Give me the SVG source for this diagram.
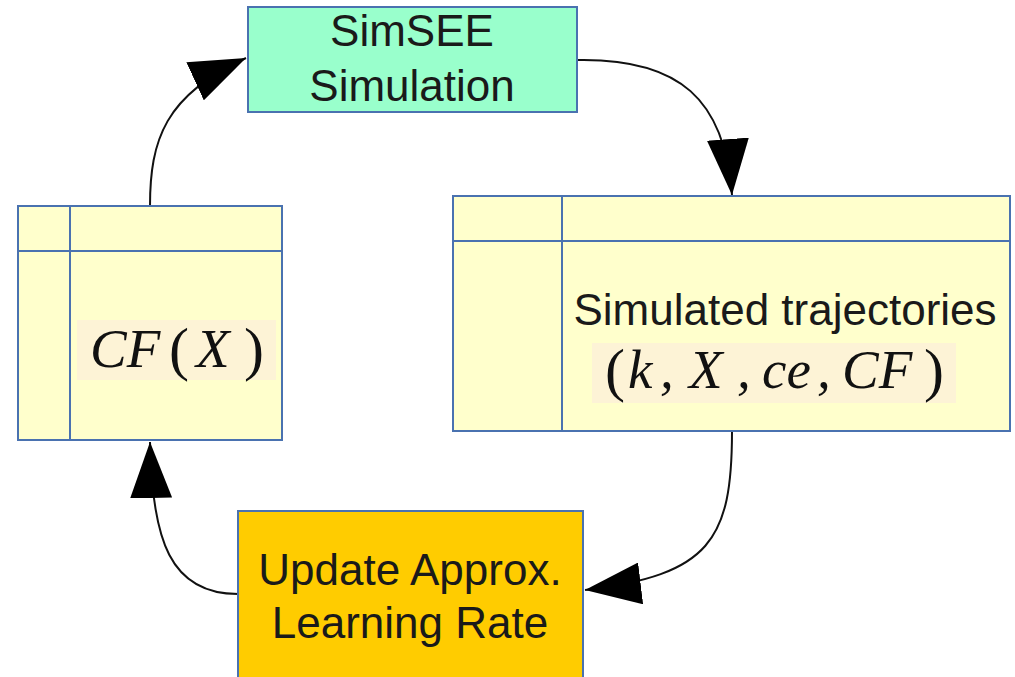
<svg xmlns="http://www.w3.org/2000/svg" width="1015" height="677" viewBox="0 0 1015 677">
<defs>
<style>
.box{stroke:#4a72b0;stroke-width:2}
.lbl{font-family:"Liberation Sans",Arial,sans-serif;font-size:44px;fill:#1a1a1a;text-anchor:middle}
.m{font-family:"Liberation Serif","Times New Roman",serif;font-size:55px;font-style:italic;fill:#111}
.p{font-family:"Liberation Serif","Times New Roman",serif;font-size:60px;fill:#111}
.div{stroke:#4a72b0;stroke-width:2}
.hl{fill:#fdf3d6}
.con{fill:none;stroke:#111;stroke-width:2}
</style>
<marker id="ah" markerUnits="userSpaceOnUse" viewBox="0 0 56 42" refX="56" refY="21" markerWidth="56" markerHeight="42" orient="auto">
<path d="M0,0 L56,21 L0,42 z" fill="#000"/>
</marker>
</defs>
<rect width="1015" height="677" fill="#fff"/>
<g id="connectors">
<path class="con" d="M150,206 C150,140 165,95 246,58" marker-end="url(#ah)"/>
<path class="con" d="M577,60 C680,58 725,100 732,195" marker-end="url(#ah)"/>
<path class="con" d="M732,431 C732,540 710,575 585,590" marker-end="url(#ah)"/>
<path class="con" d="M238,594 C170,594 152,540 150,442" marker-end="url(#ah)"/>
</g>
<g id="simsee">
<rect class="box" x="248" y="7" width="329" height="105" fill="#99ffcc"/>
<text class="lbl" x="412" y="46">SimSEE</text>
<text class="lbl" x="412" y="101">Simulation</text>
</g>
<g id="cf">
<rect class="box" x="18" y="206" width="264" height="234" fill="#ffffcc"/>
<line class="div" x1="70" y1="206" x2="70" y2="440"/>
<line class="div" x1="18" y1="251" x2="282" y2="251"/>
<rect class="hl" x="77" y="320" width="199" height="60"/>
<text class="m" x="90" y="367">CF</text>
<text class="p" x="169" y="369">(</text>
<text class="m" x="196" y="367">X</text>
<text class="p" x="244" y="369">)</text>
</g>
<g id="trajectories">
<rect class="box" x="453" y="196" width="557" height="235" fill="#ffffcc"/>
<line class="div" x1="562" y1="196" x2="562" y2="431"/>
<line class="div" x1="453" y1="241" x2="1010" y2="241"/>
<text class="lbl" x="785" y="325">Simulated trajectories</text>
<rect class="hl" x="592" y="343" width="364" height="60"/>
<text class="p" x="605" y="390">(</text>
<text class="m" x="628" y="388">k</text>
<text class="m" x="660" y="388">,</text>
<text class="m" x="689" y="388">X</text>
<text class="m" x="737" y="388">,</text>
<text class="m" x="762" y="388">ce</text>
<text class="m" x="817" y="388">,</text>
<text class="m" x="842" y="388">CF</text>
<text class="p" x="924" y="390">)</text>
</g>
<g id="update">
<rect class="box" x="238" y="511" width="345" height="170" fill="#ffcc00"/>
<text class="lbl" x="410" y="585">Update Approx.</text>
<text class="lbl" x="410" y="638">Learning Rate</text>
</g>
</svg>
